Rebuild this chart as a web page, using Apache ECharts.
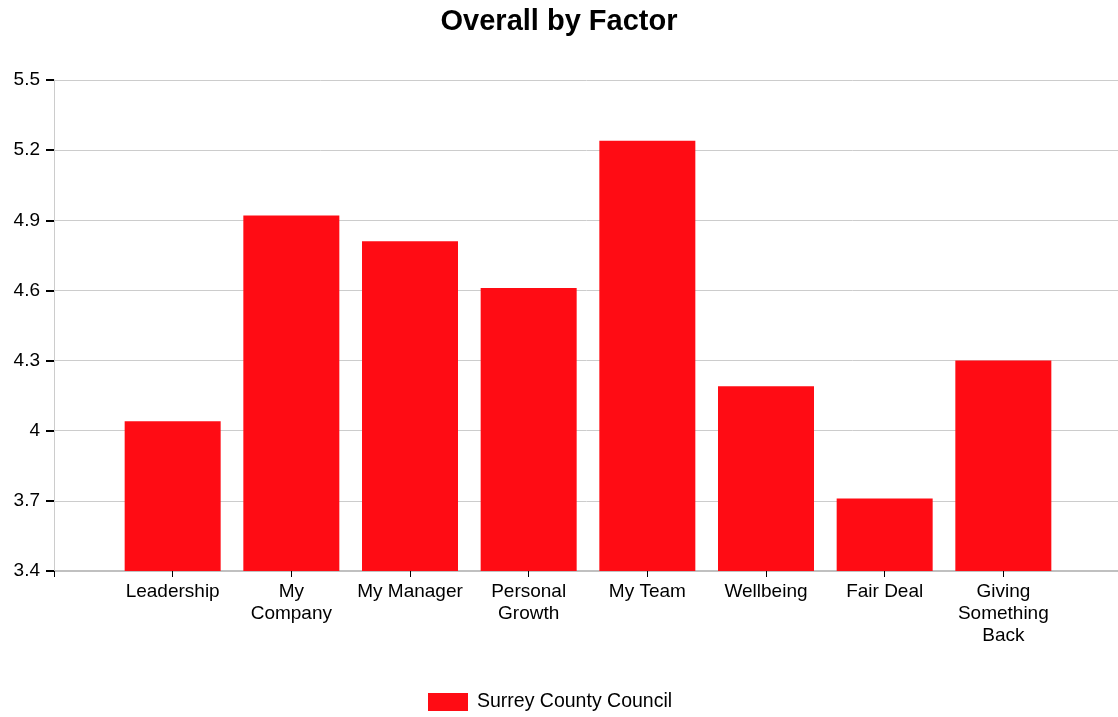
<!DOCTYPE html>
<html>
<head>
<meta charset="utf-8">
<script src="https://cdn.jsdelivr.net/npm/echarts@6/dist/echarts.min.js"></script>
<style>html,body{margin:0;padding:0;background:#fff;}#c{width:1118px;height:717px;}</style>
</head>
<body>
<div id="c"></div>
<script>
var categories = ['', 'Leadership', 'My\nCompany', 'My Manager', 'Personal\nGrowth', 'My Team', 'Wellbeing', 'Fair Deal', 'Giving\nSomething\nBack', ''];
var values = [null, 4.04, 4.92, 4.81, 4.61, 5.24, 4.19, 3.71, 4.30, null];
var seriesName = 'Surrey County Council';
var yMin = 3.4, yMax = 5.5, yStep = 0.3;

var chart = echarts.init(document.getElementById('c'), null, {renderer: 'canvas'});
chart.setOption({
  animation: false,
  textStyle: {fontFamily: 'Liberation Sans, Arial, sans-serif'},
  title: {
    text: 'Overall by Factor', left: 'center', top: 2,
    textStyle: {fontSize: 29, fontWeight: 'bold', color: '#000', fontFamily: 'Liberation Sans, Arial, sans-serif'}
  },
  legend: {
    bottom: 0, left: 423, itemWidth: 40, itemHeight: 18, icon: 'rect', itemGap: 10,
    textStyle: {fontSize: 19.5, color: '#000', padding: [0, 0, 0, 4]},
    data: [seriesName]
  },
  grid: {left: 54, width: 1068, top: 80, bottom: 146, containLabel: false, outerBoundsMode: 'none'},
  xAxis: {
    type: 'category', data: categories, boundaryGap: false,
    axisLine: {lineStyle: {color: '#c0c0c0', width: 2}},
    axisTick: {show: true, length: 6, interval: 0, lineStyle: {color: '#000'}},
    axisLabel: {interval: 0, fontSize: 19, color: '#000', margin: 10, lineHeight: 22},
    splitLine: {show: false}
  },
  yAxis: {
    type: 'value', min: yMin, max: yMax, interval: yStep,
    axisLine: {show: true, lineStyle: {color: '#ccc'}},
    axisTick: {show: true, length: 8, lineStyle: {color: '#000', width: 2}},
    axisLabel: {fontSize: 19, color: '#000', margin: 14, formatter: function(v){ return String(Math.round(v*10)/10); }},
    splitLine: {lineStyle: {color: '#ccc', width: 1}}
  },
  series: [{
    name: seriesName, type: 'bar', data: values, barWidth: 96,
    itemStyle: {color: '#ff0c14'}
  }]
});
</script>
</body>
</html>
